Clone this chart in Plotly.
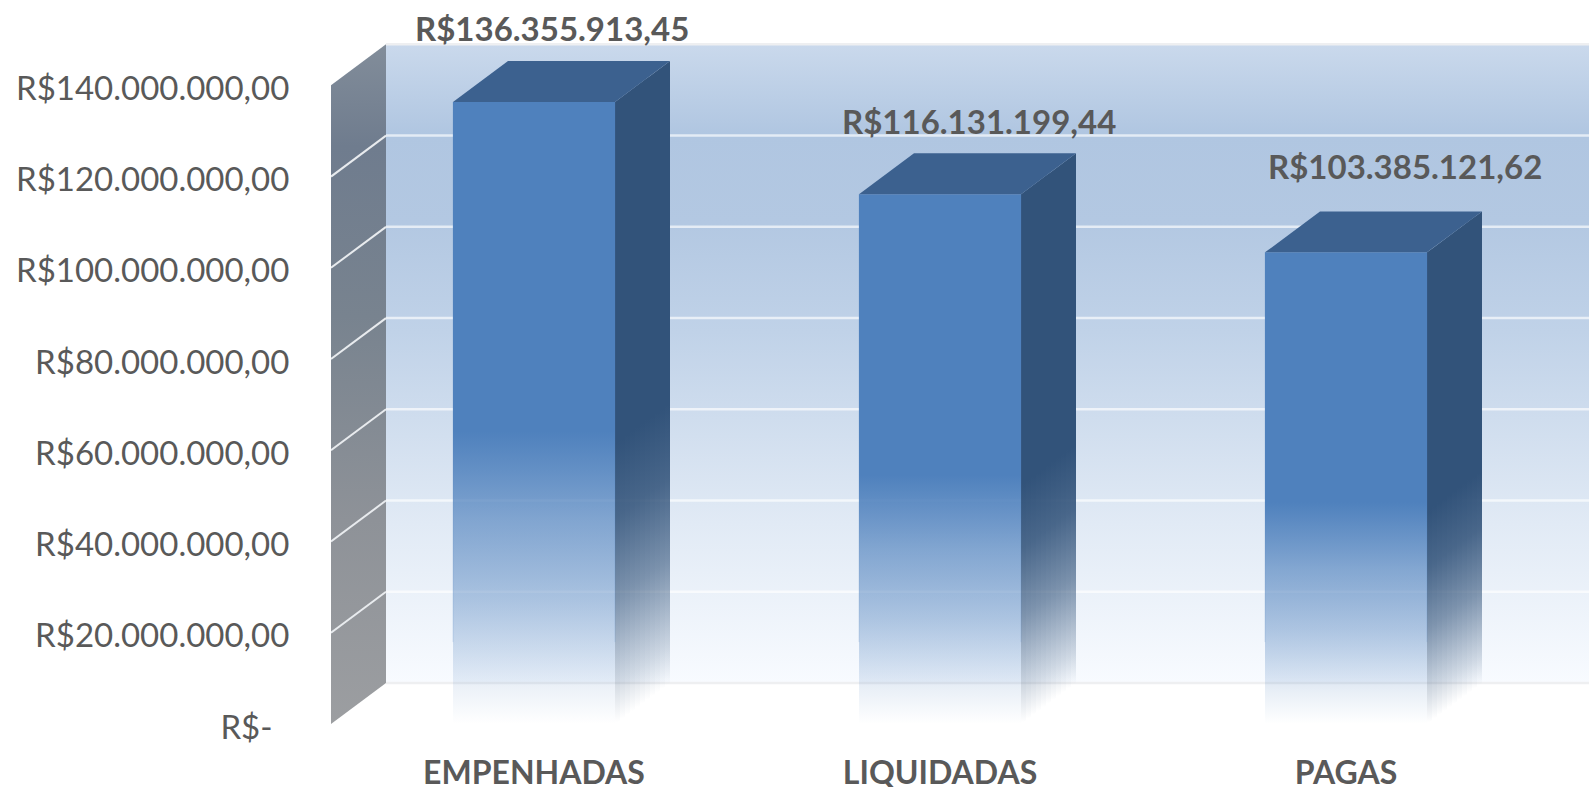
import plotly.graph_objects as go

categories = ["EMPENHADAS", "LIQUIDADAS", "PAGAS"]
values = [136355913.45, 116131199.44, 103385121.62]
value_labels = ["R$136.355.913,45", "R$116.131.199,44", "R$103.385.121,62"]
tick_values = [0, 20e6, 40e6, 60e6, 80e6, 100e6, 120e6, 140e6]
tick_labels = ["R$-\u00a0\u00a0", "R$20.000.000,00", "R$40.000.000,00", "R$60.000.000,00",
               "R$80.000.000,00", "R$100.000.000,00", "R$120.000.000,00", "R$140.000.000,00"]

W, H = 1589, 787
L, B = 331, 62.5
PX_X = 406             # pixels per category
PX_Y = 4.565e-6        # pixels per unit of value
X0 = 534               # pixel of the first category
xmin = (L - X0) / PX_X
xmax = (W - X0) / PX_X
ymax = (H - B) / PX_Y
DX = 55 / PX_X         # chart depth
DV = 41 / PX_Y
BW = 162 / PX_X
TEXT = "#595959"
FONT = "Lato"

label_shift = [(18, 74), (39, 73), (59, 86)]

fig = go.Figure()

def poly(xs, ys, gradient=None, color=None, start=None, stop=None):
    kw = dict(x=xs + xs[:1], y=ys + ys[:1], mode="lines", line=dict(width=0),
              fill="toself", hoverinfo="skip", showlegend=False)
    if gradient:
        fg = dict(type="vertical", colorscale=gradient)
        if start is not None:
            fg.update(start=start, stop=stop)
        kw["fillgradient"] = fg
    else:
        kw["fillcolor"] = color
    fig.add_trace(go.Scatter(**kw))

def line(xs, ys, color, width):
    fig.add_trace(go.Scatter(x=xs, y=ys, mode="lines", line=dict(color=color, width=width),
                             hoverinfo="skip", showlegend=False))

# back wall
wall_top = 140e6 + DV
poly([xmin + DX, xmax, xmax, xmin + DX], [DV, DV, wall_top, wall_top],
     gradient=[[0, "#F8FBFF"], [0.25, "#E1EAF5"], [0.55, "#C0D2E8"], [0.72, "#B3C8E2"],
               [0.86, "#B0C6E1"], [1, "#CAD9EC"]], start=DV, stop=wall_top)
# side wall
poly([xmin, xmin + DX, xmin + DX, xmin], [0, DV, wall_top, 140e6],
     gradient=[[0, "#9C9EA1"], [0.3, "#8E9298"], [0.6, "#78838F"], [0.85, "#6F7C8E"],
               [1, "#828D9A"]], start=0, stop=wall_top)

# grid on the walls
for v in tick_values:
    c = "#EEEFF1" if v in (0, 140e6) else "rgba(255,255,255,0.65)"
    line([xmin + DX, xmax], [v + DV, v + DV], c, 2.5)
    if 0 < v < 140e6:
        line([xmin, xmin + DX], [v, v + DV], "#E8EBEE", 2)

front_scale = [[0, "rgba(79,129,189,0)"], [0.067, "rgba(79,129,189,0.125)"],
               [0.2, "rgba(79,129,189,0.42)"], [0.33, "rgba(79,129,189,0.66)"],
               [0.47, "rgba(79,129,189,1)"], [1, "rgba(79,129,189,1)"]]
side_scale = [[0, "rgba(50,83,122,0)"], [0.06, "rgba(50,83,122,0.2)"],
              [0.2, "rgba(50,83,122,0.6)"], [0.33, "rgba(50,83,122,0.87)"],
              [0.45, "rgba(50,83,122,1)"], [1, "rgba(50,83,122,1)"]]

N = 11
for i, v in enumerate(values):
    x0, x1 = i - BW / 2, i + BW / 2
    # side face, cut in strips so that the fade follows the depth
    for k in range(N):
        t0, t1 = k / N, (k + 1) / N
        tm = (t0 + t1) / 2
        poly([x1 + DX * t0, x1 + DX * t1, x1 + DX * t1, x1 + DX * t0],
             [DV * t0, DV * t1, v + DV * t1, v + DV * t0],
             gradient=side_scale, start=DV * tm, stop=v + DV * tm)
    # front face
    poly([x0, x1, x1, x0], [0, 0, v, v], gradient=front_scale, start=0, stop=v)
    # top face
    poly([x0, x1, x1 + DX, x0 + DX], [v, v, v + DV, v + DV], color="#3C618F")
    # thin front edges, visible where the face fades out
    for xe in (x0, x1):
        line([xe, xe], [DV * 2, v], "rgba(79,129,189,0.2)", 1)

for i, (v, t) in enumerate(zip(values, value_labels)):
    fig.add_annotation(x=i, y=v, text=t, showarrow=False, xshift=label_shift[i][0],
                       yshift=label_shift[i][1], xanchor="center", yanchor="middle",
                       font=dict(family=FONT, size=33, color=TEXT, weight="bold"))

fig.update_layout(
    width=W, height=H, margin=dict(l=L, r=0, t=0, b=B),
    paper_bgcolor="white", plot_bgcolor="white", showlegend=False,
    font=dict(family=FONT, color=TEXT),
    xaxis=dict(range=[xmin, xmax], showgrid=False, zeroline=False, showline=False,
               automargin=False,
               tickmode="array", tickvals=[0, 1, 2], ticktext=categories,
               ticks="outside", ticklen=21, tickcolor="rgba(0,0,0,0)",
               tickfont=dict(family=FONT, size=32, color=TEXT, weight="bold")),
    yaxis=dict(range=[0, ymax], showgrid=False, zeroline=False, showline=False,
               automargin=False,
               tickmode="array", tickvals=tick_values, ticktext=tick_labels,
               ticks="outside", ticklen=34, tickcolor="rgba(0,0,0,0)",
               ticklabelshift=3,
               tickfont=dict(family=FONT, size=33, color=TEXT)),
)

fig.write_html("out.html", post_script="document.body.style.margin='0';",
               config={"displayModeBar": False})
